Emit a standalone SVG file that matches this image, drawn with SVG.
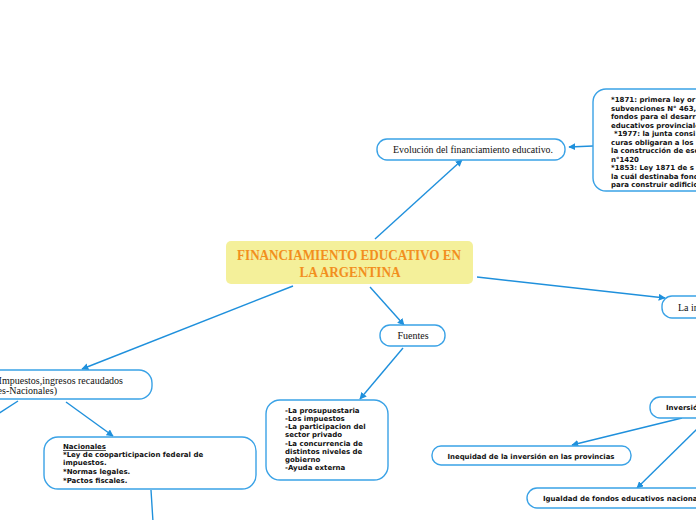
<svg xmlns="http://www.w3.org/2000/svg" width="696" height="520" viewBox="0 0 696 520">
<style>
.box{fill:#ffffff;stroke:#3aa2e6;stroke-width:1.4}
.con{fill:none;stroke:#1f90dc;stroke-width:1.4}
.serif{font-family:"Liberation Serif","DejaVu Serif",serif;font-size:10px;fill:#111}
.sans{font-family:"DejaVu Sans","Liberation Sans",sans-serif;font-size:7px;font-weight:bold;fill:#111}
.main{font-family:"Liberation Serif","DejaVu Serif",serif;font-size:14px;font-weight:bold;fill:#f28f1e}
</style>
<defs>
<marker id="arr" viewBox="0 0 10 10" refX="9" refY="5" markerWidth="7" markerHeight="7" orient="auto" markerUnits="userSpaceOnUse">
<path d="M0,0 L10,5 L0,10 z" fill="#1f90dc"/>
</marker>
</defs>
<rect width="696" height="520" fill="#ffffff"/>
<g id="connectors">
<line class="con" x1="375" y1="239" x2="462" y2="160" marker-end="url(#arr)"/>
<line class="con" x1="593" y1="146" x2="569" y2="147" marker-end="url(#arr)"/>
<line class="con" x1="477" y1="277" x2="665" y2="298" marker-end="url(#arr)"/>
<line class="con" x1="370" y1="287" x2="404" y2="325" marker-end="url(#arr)"/>
<line class="con" x1="403" y1="348" x2="360" y2="399" marker-end="url(#arr)"/>
<line class="con" x1="293" y1="286" x2="82" y2="369" marker-end="url(#arr)"/>
<line class="con" x1="18" y1="401" x2="-2" y2="414"/>
<line class="con" x1="66" y1="402" x2="113" y2="436" marker-end="url(#arr)"/>
<line class="con" x1="151" y1="490" x2="153" y2="522"/>
<line class="con" x1="682" y1="418" x2="572" y2="445" marker-end="url(#arr)"/>
<line class="con" x1="698" y1="428" x2="637" y2="488" marker-end="url(#arr)"/>
</g>
<g id="central">
<rect x="226" y="241" width="247" height="43" rx="5" fill="#f4f09a"/>
<text class="main" x="349" y="260" text-anchor="middle" textLength="224" lengthAdjust="spacingAndGlyphs">FINANCIAMIENTO  EDUCATIVO EN</text>
<text class="main" x="350" y="277" text-anchor="middle" textLength="101" lengthAdjust="spacingAndGlyphs">LA ARGENTINA</text>
</g>
<g id="evolucion">
<rect class="box" x="377" y="139" width="188" height="21" rx="10"/>
<text class="serif" x="473" y="153" text-anchor="middle" textLength="160" lengthAdjust="spacingAndGlyphs">Evolución del financiamiento educativo.</text>
</g>
<g id="historia">
<rect class="box" x="593" y="89" width="120" height="102" rx="13"/>
<text class="sans" x="611" y="102">*1871: primera ley or</text>
<text class="sans" x="611" y="110.5">subvenciones N° 463,</text>
<text class="sans" x="611" y="119">fondos para el desarr</text>
<text class="sans" x="611" y="127.5">educativos provinciale</text>
<text class="sans" x="614" y="136">*1977: la junta consi</text>
<text class="sans" x="611" y="144.5">curas obligaran a los</text>
<text class="sans" x="611" y="153">la construcción de esc</text>
<text class="sans" x="611" y="161.5">n°1420</text>
<text class="sans" x="611" y="170">*1853: Ley 1871 de s</text>
<text class="sans" x="611" y="178.5">la cuál destinaba fond</text>
<text class="sans" x="611" y="187">para construir edificio</text>
</g>
<g id="la-in">
<rect class="box" x="662" y="296" width="60" height="22" rx="10"/>
<text class="serif" x="678" y="311">La in</text>
</g>
<g id="fuentes">
<rect class="box" x="380" y="325" width="65" height="21" rx="10"/>
<text class="serif" x="413" y="339" text-anchor="middle">Fuentes</text>
</g>
<g id="lista-fuentes">
<rect class="box" x="266" y="400" width="122" height="80" rx="14"/>
<text class="sans" x="285" y="413">-La prosupuestaria</text>
<text class="sans" x="285" y="421">-Los impuestos</text>
<text class="sans" x="285" y="429">-La participacion del</text>
<text class="sans" x="285" y="437">sector privado</text>
<text class="sans" x="285" y="445.5">-La concurrencia de</text>
<text class="sans" x="285" y="454">distintos niveles de</text>
<text class="sans" x="285" y="462">gobierno</text>
<text class="sans" x="285" y="470">-Ayuda externa</text>
</g>
<g id="recursos">
<rect class="box" x="-40" y="370" width="192" height="29" rx="13"/>
<text class="serif" x="123" y="384" text-anchor="end">(Impuestos,ingresos recaudados</text>
<text class="serif" x="57" y="394" text-anchor="end">(Provinciales-Nacionales)</text>
</g>
<g id="nacionales">
<rect class="box" x="44" y="437" width="212" height="52" rx="14"/>
<text class="sans" x="63" y="449" text-decoration="underline">Nacionales</text>
<text class="sans" x="63" y="457">*Ley de cooparticipacion federal de</text>
<text class="sans" x="63" y="465">impuestos.</text>
<text class="sans" x="63" y="474">*Normas legales.</text>
<text class="sans" x="63" y="483">*Pactos fiscales.</text>
</g>
<g id="inversion">
<rect class="box" x="650" y="397" width="70" height="21" rx="10"/>
<text class="sans" x="666" y="410">Inversión</text>
</g>
<g id="inequidad">
<rect class="box" x="432" y="446" width="199" height="19" rx="9"/>
<text class="sans" x="531" y="458.5" text-anchor="middle" textLength="167" lengthAdjust="spacingAndGlyphs">Inequidad de la inversión en las provincias</text>
</g>
<g id="igualdad">
<rect class="box" x="527" y="488" width="200" height="20" rx="10"/>
<text class="sans" x="543" y="500.5">Igualdad de fondos educativos nacionales</text>
</g>
</svg>
